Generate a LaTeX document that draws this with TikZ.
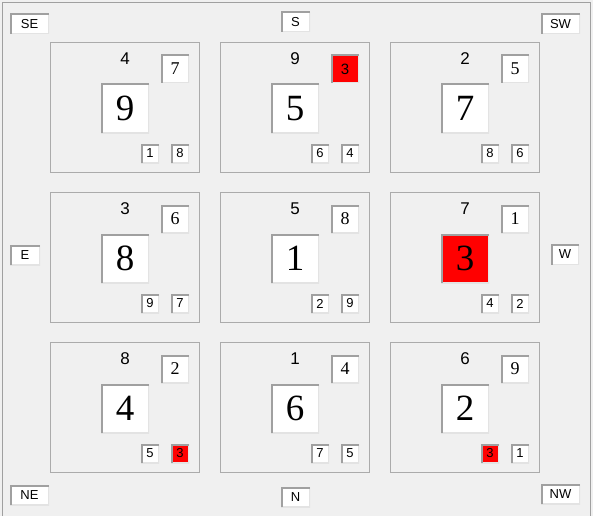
\documentclass[tikz,border=0pt]{standalone}
\usepackage{fontspec}
\setmainfont{Liberation Serif}
\setsansfont{Liberation Sans}
\definecolor{bg}{HTML}{F0F0F0}
\definecolor{edge}{HTML}{A0A0A0}
\definecolor{lite}{HTML}{E3E3E3}
\definecolor{cellline}{HTML}{ABABAB}
\definecolor{hot}{HTML}{FF0000}
\tikzset{
  sunk/.style={rectangle, inner sep=0pt, fill=white,
    path picture={
      \draw[lite, line width=2pt] (path picture bounding box.north east) -- (path picture bounding box.south east) -- (path picture bounding box.south west);
      \draw[edge, line width=3pt] (path picture bounding box.south west) -- (path picture bounding box.north west) -- (path picture bounding box.north east);
    }},
  hotbox/.style={fill=hot},
  cellbox/.style={draw=cellline, line width=0.8pt, fill=bg, rectangle, inner sep=0pt, minimum width=149pt, minimum height=130pt},
  dirlabel/.style={sunk, font=\sffamily\fontsize{13}{14}\selectfont, minimum height=20pt},
  toplabel/.style={font=\sffamily\fontsize{17}{18}\selectfont, inner sep=0pt},
  smallbox/.style={sunk, minimum width=28pt, minimum height=28pt, font=\fontsize{18}{19}\selectfont},
  bigbox/.style={sunk, minimum width=48pt, minimum height=49pt, font=\fontsize{37}{38}\selectfont},
  tinybox/.style={sunk, minimum width=18pt, minimum height=19pt, font=\sffamily\fontsize{13}{14}\selectfont},
}
% #1 name, #2 x, #3 y, #4 label, #5 top-right, #6 big, #7 bottom-left, #8 bottom-right, #9 extra styles
\newcommand{\qcell}[9]{%
  \node[cellbox] (#1) at (#2+75,#3+65.5) {};
  \node[toplabel] (#1-l) at (#2+75,#3+17) {#4};
  \node[smallbox] (#1-t) at (#2+125,#3+27) {#5};
  \node[bigbox] (#1-b) at (#2+75,#3+66.5) {#6};
  \node[tinybox] (#1-p) at (#2+100,#3+111.5) {#7};
  \node[tinybox] (#1-q) at (#2+130,#3+111.5) {#8};
  #9
}
\begin{document}
\begin{tikzpicture}[x=1pt,y=-1pt]
\useasboundingbox (0,0) rectangle (593,516);
\fill[bg] (0,0) rectangle (593,516);
\draw[edge, line width=1pt] (2.5,516) -- (2.5,2.5) -- (590.5,2.5) -- (590.5,516);
% direction labels
\node[dirlabel, minimum width=39pt] (se) at (29.5,24) {SE};
\node[dirlabel, minimum width=29pt] (s) at (295.5,22) {S};
\node[dirlabel, minimum width=39pt] (sw) at (560.5,24) {SW};
\node[dirlabel, minimum width=30pt] (e) at (25,255) {E};
\node[dirlabel, minimum width=28pt] (w) at (565,254.5) {W};
\node[dirlabel, minimum width=39pt] (ne) at (29.5,495) {NE};
\node[dirlabel, minimum width=29pt] (n) at (295.5,497) {N};
\node[dirlabel, minimum width=39pt] (nw) at (560.5,494) {NW};
% cells
\qcell{c11}{50}{42}{4}{7}{9}{1}{8}{}
\qcell{c12}{220}{42}{9}{}{5}{6}{4}{\node[smallbox, hotbox, font=\sffamily\fontsize{15}{16}\selectfont] (c12-t) at (345,69) {3};}
\qcell{c13}{390}{42}{2}{5}{7}{8}{6}{}
\qcell{c21}{50}{192}{3}{6}{8}{9}{7}{}
\qcell{c22}{220}{192}{5}{8}{1}{2}{9}{}
\qcell{c23}{390}{192}{7}{1}{}{4}{2}{\node[bigbox, hotbox] (c23-b) at (465,258.5) {3};}
\qcell{c31}{50}{342}{8}{2}{4}{5}{}{\node[tinybox, hotbox] (c31-q) at (180,453.5) {3};}
\qcell{c32}{220}{342}{1}{4}{6}{7}{5}{}
\qcell{c33}{390}{342}{6}{9}{2}{}{1}{\node[tinybox, hotbox] (c33-p) at (490,453.5) {3};}
\end{tikzpicture}
\end{document}
